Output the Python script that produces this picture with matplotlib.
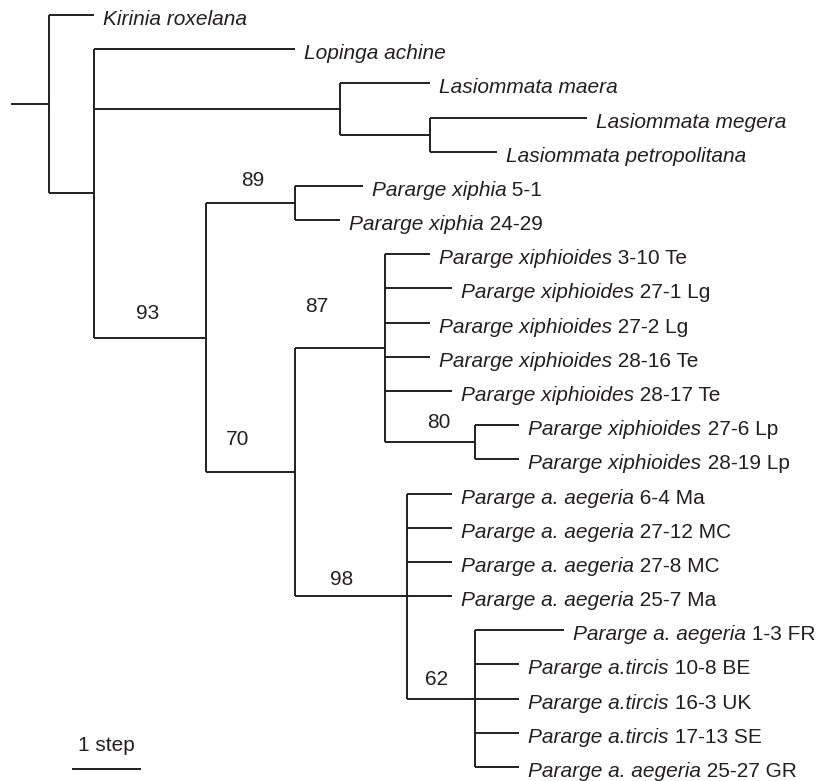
import re
import matplotlib.pyplot as plt

plt.rcParams['font.family'] = ['Liberation Sans', 'DejaVu Sans']

# tip names (italic part) and sample codes, in drawing order
taxa = ['Kirinia roxelana', 'Lopinga achine', 'Lasiommata maera',
        'Lasiommata megera', 'Lasiommata petropolitana',
        'Pararge xiphia', 'Pararge xiphia',
        'Pararge xiphioides', 'Pararge xiphioides', 'Pararge xiphioides',
        'Pararge xiphioides', 'Pararge xiphioides', 'Pararge xiphioides',
        'Pararge xiphioides',
        'Pararge a. aegeria', 'Pararge a. aegeria', 'Pararge a. aegeria',
        'Pararge a. aegeria', 'Pararge a. aegeria',
        'Pararge a.tircis', 'Pararge a.tircis', 'Pararge a.tircis',
        'Pararge a. aegeria']
codes = ['', '', '', '', '',
         '5-1', '24-29',
         '3-10 Te', '27-1 Lg', '27-2 Lg', '28-16 Te', '28-17 Te', '27-6 Lp',
         '28-19 Lp',
         '6-4 Ma', '27-12 MC', '27-8 MC', '25-7 Ma', '1-3 FR',
         '10-8 BE', '16-3 UK', '17-13 SE', '25-27 GR']

# topology: tip index:branch length, internal nodes carry bootstrap support
tree = ('(0:2,(1:9,(2:4,(3:7,4:3):4):11,((5:3,6:2)89:4,'
        '((7:2,8:3,9:2,10:2,11:3,(12:2,13:2)80:4)87:4,'
        '(14:2,15:2,16:2,17:2,(18:4,19:2,20:2,21:2,22:2)62:3)98:5)70:4)93:5):2);')

# hand placement of support values (pixels from branch middle)
label_offsets = {'93': (-2, 24), '89': (2, 22), '70': (-13, 33), '87': (-23, 42),
                 '80': (9, 20), '98': (-10, 17), '62': (-4, 19)}


def parse(s, i=0):
    node = {'children': [], 'label': None, 'leaf': None}
    if s[i] == '(':
        i += 1
        while True:
            child, i = parse(s, i)
            node['children'].append(child)
            i += 1
            if s[i - 1] == ')':
                break
    m = re.match(r'([^:,();]*)(?::([\d.]+))?', s[i:])
    i += m.end()
    if node['children']:
        node['label'] = m.group(1) or None
    else:
        node['leaf'] = int(m.group(1))
    node['len'] = float(m.group(2)) if m.group(2) else 0.0
    return node, i


rows = iter(range(len(taxa)))


def layout(node, x0):
    node['x'] = x0 + node['len']
    if node['leaf'] is not None:
        node['y'] = next(rows)
    else:
        for c in node['children']:
            layout(c, node['x'])
        node['y'] = (node['children'][0]['y'] + node['children'][-1]['y']) / 2.0


root, _ = parse(tree)
layout(root, 0.0)

fig = plt.figure(figsize=(8.29, 7.81), dpi=100)
ax = fig.add_axes([0, 0, 1, 1])
px_unit = 22.4
px_row = 34.18
ax.set_xlim(-49 / px_unit, (829 - 49) / px_unit)
ax.set_ylim((781 - 15) / px_row, -15 / px_row)
ax.axis('off')

lc = '#231f20'
lw = 1.4
fs = 15


def draw(node):
    if node['leaf'] is not None:
        t = ax.annotate(taxa[node['leaf']], (node['x'], node['y']), xytext=(9, -10),
                        textcoords='offset pixels', va='baseline', ha='left',
                        fontsize=fs, style='italic', color='#231f20')
        if codes[node['leaf']]:
            ax.annotate(' ' + codes[node['leaf']], (1, 0), xycoords=t,
                        va='bottom', ha='left', fontsize=fs, color='#231f20')
        return
    kids = node['children']
    ax.plot([node['x'], node['x']], [kids[0]['y'], kids[-1]['y']], color=lc, lw=lw,
            solid_capstyle='butt')
    for c in kids:
        ax.plot([node['x'], c['x']], [c['y'], c['y']], color=lc, lw=lw,
                solid_capstyle='butt')
        if c['label']:
            dx, dy = label_offsets.get(c['label'], (0, 20))
            ax.annotate(c['label'], ((node['x'] + c['x']) / 2, c['y']), xytext=(dx, dy),
                        textcoords='offset pixels', ha='center', va='center',
                        fontsize=fs, color='#231f20')
        draw(c)


# root stub
ax.plot([-37 / px_unit, 0], [root['y'], root['y']], color=lc, lw=lw)
draw(root)

# scale bar: 1 step
bar_x = 1.07
bar_len = 3
bar_y = 22.06
ax.plot([bar_x, bar_x + bar_len], [bar_y, bar_y], color=lc, lw=lw)
ax.annotate('1 step', (bar_x + bar_len / 2, bar_y), xytext=(0, 24),
            textcoords='offset pixels', ha='center', va='center', fontsize=fs,
            color='#231f20')

fig.savefig('out.png', dpi=100)
